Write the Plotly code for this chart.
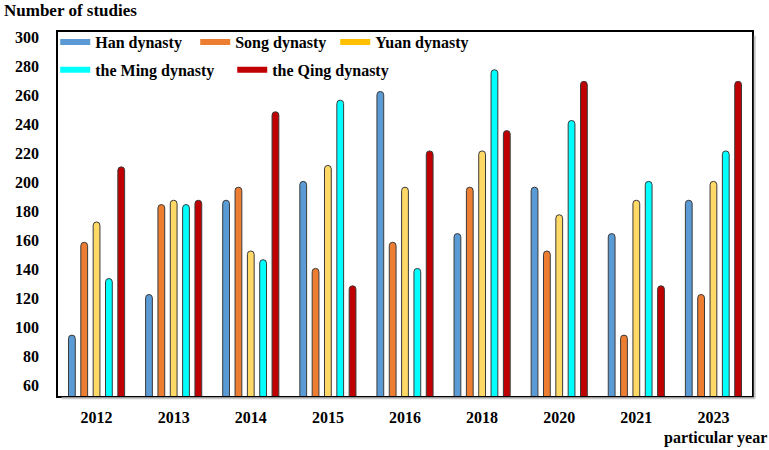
import plotly.graph_objects as go

# Publication years on the x axis
years = ["2012", "2013", "2014", "2015", "2016", "2018", "2020", "2021", "2023"]

# Number of studies per dynasty and year
han = [95, 123, 188, 201, 263, 165, 197, 165, 188]
song = [159, 185, 197, 141, 159, 197, 153, 95, 123]
yuan = [173, 188, 153, 212, 197, 222, 178, 188, 201]
ming = [134, 185, 147, 257, 141, 278, 243, 201, 222]
qing = [211, 188, 249, 129, 222, 236, 270, 129, 270]

y_ticks = [60, 80, 100, 120, 140, 160, 180, 200, 220, 240, 260, 280, 300]

series = [
    ("Han dynasty", han, "#5B9BD5", "#5B9BD5", "legend"),
    ("Song dynasty", song, "#ED7D31", "#ED7D31", "legend"),
    ("Yuan dynasty", yuan, "#FFD966", "#FFC000", "legend"),
    ("the Ming dynasty", ming, "#00FFFF", "#00FFFF", "legend2"),
    ("the Qing dynasty", qing, "#C00000", "#C00000", "legend2"),
]

FONT = "Liberation Serif"

fig = go.Figure()
for name, vals, bar_col, key_col, leg in series:
    fig.add_trace(go.Bar(
        x=years, y=vals, name=name, showlegend=False,
        marker=dict(color=bar_col, line=dict(color="#3a3a3a", width=1),
                    cornerradius="50%"),
    ))
for name, vals, bar_col, key_col, leg in series:
    fig.add_trace(go.Scatter(
        x=[None], y=[None], mode="lines", name=name, legend=leg,
        line=dict(color=key_col, width=6),
    ))

fig.update_layout(
    width=769, height=450,
    margin=dict(l=58, r=17, t=32, b=54),
    paper_bgcolor="white", plot_bgcolor="white",
    barmode="group", bargap=0.2, bargroupgap=0.45,
    font=dict(family=FONT, size=16, color="black"),
    legend=dict(
        orientation="h", x=-0.004, xanchor="left", y=1.019, yanchor="top",
        entrywidth=95, font=dict(family=FONT, size=16, weight="bold"),
        bgcolor="rgba(0,0,0,0)",
    ),
    legend2=dict(
        orientation="h", x=-0.004, xanchor="left", y=0.943, yanchor="top",
        entrywidth=132, font=dict(family=FONT, size=16, weight="bold"),
        bgcolor="rgba(0,0,0,0)",
    ),
    showlegend=True,
)

fig.update_xaxes(
    showline=True, linecolor="black", linewidth=1.5, mirror=True,
    showgrid=False, ticks="", ticklabelstandoff=6,
    tickfont=dict(family=FONT, size=16, weight="bold"),
)
fig.update_yaxes(
    range=[53, 304], tickvals=y_ticks,
    showline=True, linecolor="black", linewidth=1.5, mirror=True,
    showgrid=False, zeroline=False, ticks="", ticklabelstandoff=14,
    tickfont=dict(family=FONT, size=16, weight="bold"),
)

# soft grey shadow along the right and bottom edges of the frame
fig.add_shape(type="line", xref="paper", yref="paper", x0=1.004, x1=1.004,
              y0=-0.006, y1=0.99, line=dict(color="#c8c8c8", width=2))
fig.add_shape(type="line", xref="paper", yref="paper", x0=0.005, x1=1.004,
              y0=-0.006, y1=-0.006, line=dict(color="#c8c8c8", width=2))

fig.add_annotation(
    text="Number of studies", xref="paper", yref="paper",
    x=-0.08, y=1.058, xanchor="left", yanchor="middle", showarrow=False,
    font=dict(family=FONT, size=17, weight="bold"),
)
fig.add_annotation(
    text="particular year", xref="paper", yref="paper",
    x=1.024, y=-0.115, xanchor="right", yanchor="middle", showarrow=False,
    font=dict(family=FONT, size=16, weight="bold"),
)

fig.write_html("out.html")
